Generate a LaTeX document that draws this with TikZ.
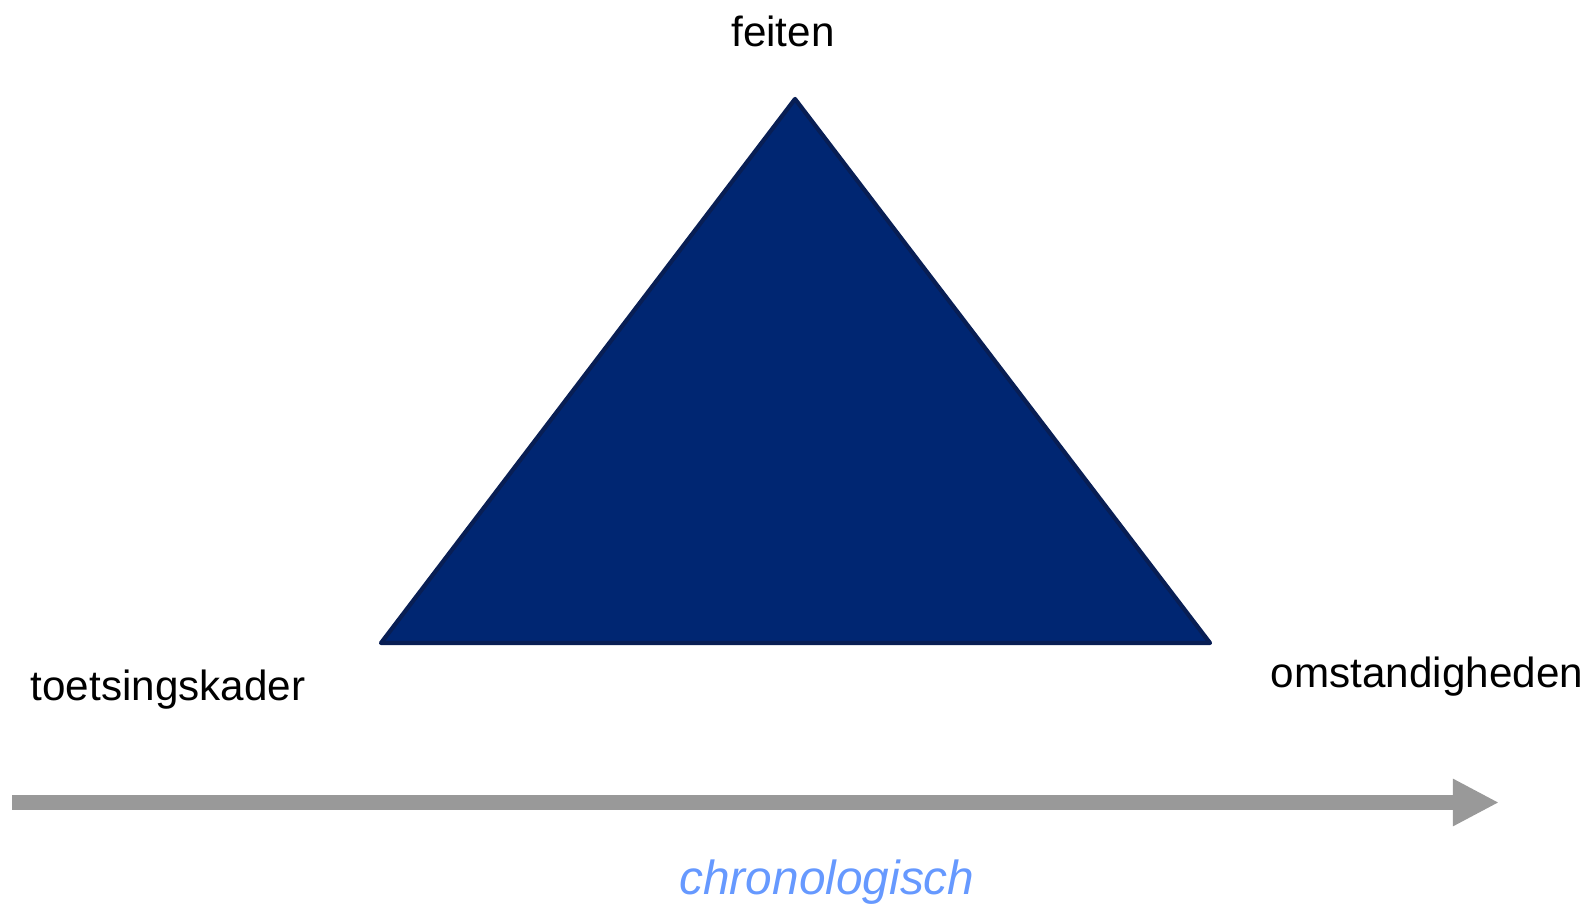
\documentclass[tikz,border=0pt]{standalone}
\usepackage{fontspec}
\setmainfont{Liberation Sans}
\usetikzlibrary{arrows.meta}

\definecolor{triblue}{RGB}{0,38,114}
\definecolor{triedge}{RGB}{8,30,84}
\definecolor{timegray}{RGB}{153,153,153}
\definecolor{timeblue}{RGB}{102,153,255}

\begin{document}
\begin{tikzpicture}[
            x=0.01cm, y=-0.01cm,
            label/.style={
                    anchor=base,
                    inner sep=0pt,
                    font=\fontsize{12}{14}\selectfont
                },
            triangle/.style={
                    fill=triblue,
                    draw=triedge,
                    line width=1.2pt,
                    line join=round
                },
            timeline/.style={
                    draw=timegray,
                    line width=0.15cm,
                    -{Triangle[width=0.44cm, length=0.46cm]}
                }
        ]
        \useasboundingbox (0,0) rectangle (1588,904);

        % Corners
        \coordinate (top) at (795,99);
        \coordinate (left) at (381,643);
        \coordinate (right) at (1210,643);

        % Triangle
        \path [triangle] (top) -- (left) -- (right) -- cycle;

        % Labels
        \node [label] (feiten) at (783,47) {feiten};
        \node [label] (kader) at (168,701) {toetsingskader};
        \node [label] (omst) at (1427,688) {omstandigheden};

        % Time arrow
        \coordinate (start) at (12,802.5);
        \coordinate (stop) at (1499,802.5);
        \path [timeline] (start) -- (stop);
        \node [label, text=timeblue, font=\fontsize{13.6}{16}\selectfont\itshape] (chrono) at (827,894) {chronologisch};
    \end{tikzpicture}
\end{document}
